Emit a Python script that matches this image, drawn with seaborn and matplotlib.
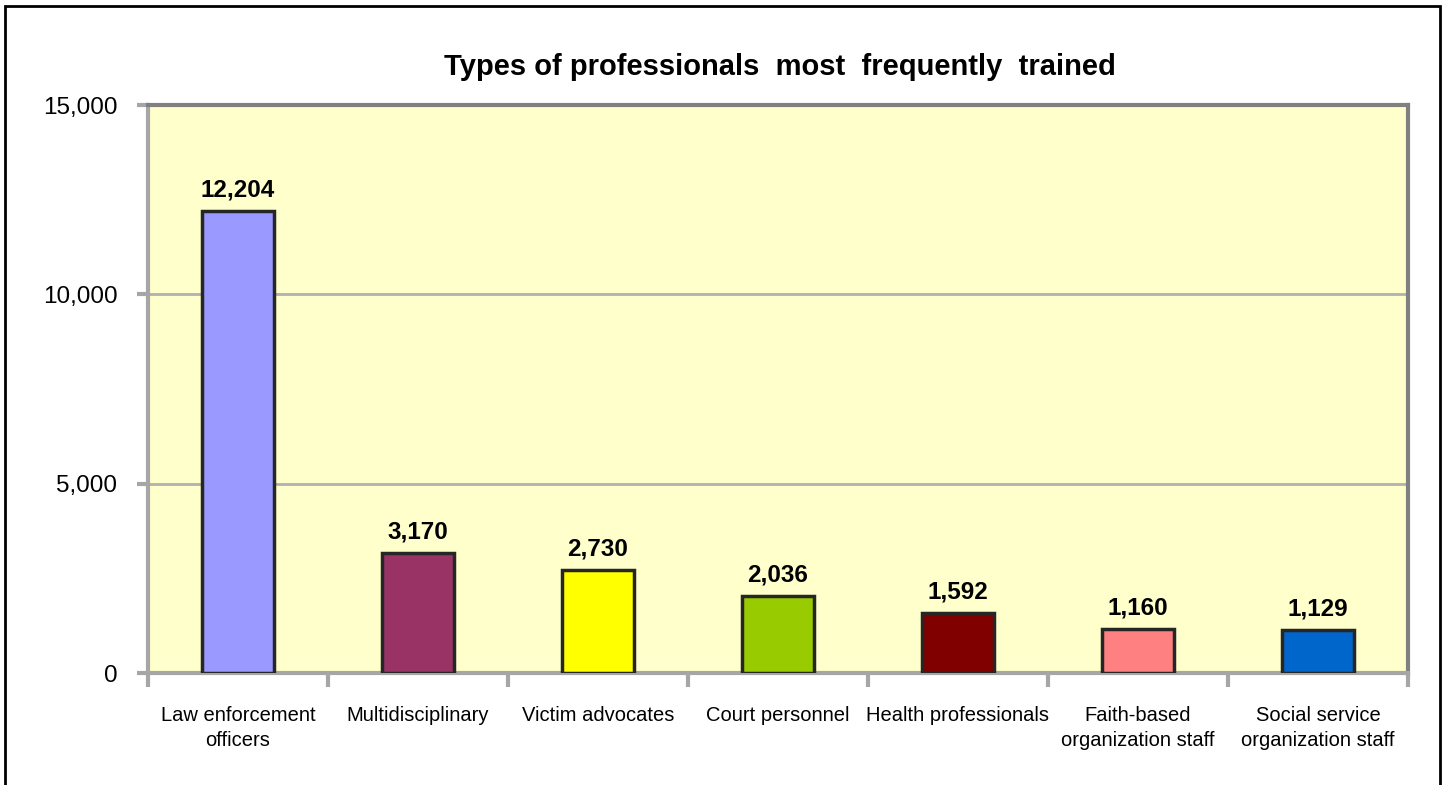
import pandas as pd
import matplotlib.pyplot as plt
import matplotlib.patches as mpatches
from matplotlib.ticker import FuncFormatter
import seaborn as sns

# chart data
categories = ['Law enforcement\nofficers', 'Multidisciplinary', 'Victim advocates',
              'Court personnel', 'Health professionals', 'Faith-based\norganization staff',
              'Social service\norganization staff']
counts = [12204, 3170, 2730, 2036, 1592, 1160, 1129]
bar_colors = ['#9999ff', '#993366', '#ffff00', '#99cc00', '#800000', '#ff8080', '#0066cc']

df = pd.DataFrame({'category': categories, 'count': counts})

sns.set_style('white')
plt.rcParams['font.family'] = ['Liberation Sans', 'DejaVu Sans']
plt.rcParams['text.color'] = 'black'
plt.rcParams['xtick.color'] = 'black'
plt.rcParams['ytick.color'] = 'black'

fig = plt.figure(figsize=(14.47, 7.85), dpi=100)
ax = fig.add_axes([148 / 1447, 1 - 673 / 785, 1260 / 1447, 568 / 785])

sns.barplot(data=df, x='category', y='count', hue='category', palette=bar_colors,
            legend=False, width=0.405, saturation=1, edgecolor='#262626', linewidth=2.5,
            ax=ax, zorder=3)

ax.set_facecolor('#ffffcc')
ax.set_ylim(0, 15000)
ax.set_xlim(-0.5, len(categories) - 0.5)
ax.set_yticks([0, 5000, 10000, 15000])
ax.yaxis.set_major_formatter(FuncFormatter(lambda v, p: f'{int(v):,}'))
ax.grid(axis='y', color='#b0b0b0', linewidth=2, zorder=1)
ax.set_xlabel('')
ax.set_ylabel('')

for side in ['top', 'right']:
    ax.spines[side].set_color('#808080')
    ax.spines[side].set_linewidth(3)
for side in ['left', 'bottom']:
    ax.spines[side].set_color('#a6a6a6')
    ax.spines[side].set_linewidth(3)

# x ticks sit on the category boundaries
ax.set_xticks(range(len(categories)))
ax.set_xticklabels(categories, fontsize=14.5, linespacing=1.4)
ax.set_xticks([i - 0.5 for i in range(len(categories) + 1)], minor=True)
ax.tick_params(axis='x', which='minor', bottom=True, length=10, width=3,
               color='#a6a6a6', direction='out')
ax.tick_params(axis='x', which='major', bottom=True, length=0, pad=24)
ax.tick_params(axis='y', left=True, length=8, width=3, color='#a6a6a6', direction='out',
               pad=14, labelsize=17.5)

for i, v in enumerate(counts):
    ax.text(i, v + 250, f'{v:,}', ha='center', va='bottom', fontsize=17.5,
            fontweight='bold', zorder=4)

fig.text(0.539, 1 - 67 / 785, 'Types of professionals  most  frequently  trained',
         ha='center', va='center', fontsize=21, fontweight='bold')

# outer frame of the chart
fig.patches.append(mpatches.Rectangle((5 / 1447, -0.02), 1435 / 1447, 1 - 6 / 785 + 0.02,
                                      transform=fig.transFigure, fill=False,
                                      edgecolor='black', linewidth=2))

fig.savefig('out.png', dpi=100)
